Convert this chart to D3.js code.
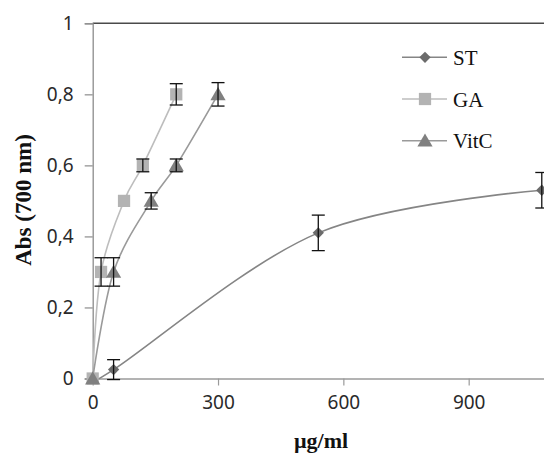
<!DOCTYPE html>
<html>
<head>
<meta charset="utf-8">
<script src="https://cdn.jsdelivr.net/npm/d3@7/dist/d3.min.js"></script>
<style>
  html, body { margin: 0; padding: 0; background: #fff; }
  svg { display: block; }
</style>
</head>
<body>
<svg id="chart" width="544" height="454"></svg>
<script>
// ---- data ----
const seriesNames = ["ST", "GA", "VitC"];
const stX = [0, 50, 540, 1075];
const stY = [0, 0.025, 0.41, 0.53];
const stErr = [0, 0.028, 0.05, 0.05];
const gaX = [0, 20, 75, 120, 200];
const gaY = [0, 0.30, 0.50, 0.60, 0.80];
const gaErr = [0, 0.04, 0, 0.018, 0.03];
const vcX = [0, 50, 140, 200, 300];
const vcY = [0, 0.30, 0.50, 0.60, 0.80];
const vcErr = [0, 0.04, 0.023, 0.018, 0.033];
const xTicks = [0, 300, 600, 900];
const xTickLabels = ["0", "300", "600", "900"];
const yTicks = [0, 0.2, 0.4, 0.6, 0.8, 1];
const yTickLabels = ["0", "0,2", "0,4", "0,6", "0,8", "1"];
const xTitle = "µg/ml";
const yTitle = "Abs (700 nm)";

// ---- layout ----
const svg = d3.select("#chart");
const x = d3.scaleLinear().domain([0, 1200]).range([92.7, 594]);
const y = d3.scaleLinear().domain([0, 1]).range([378.5, 23.3]);

const styles = {
  ST:   { line: "#858585", fill: "#6b6b6b", shape: d3.symbolSquare, size: 64, rot: 45 },
  GA:   { line: "#bdbdbd", fill: "#b3b3b3", shape: d3.symbolSquare, size: 150, rot: 0 },
  VitC: { line: "#9a9a9a", fill: "#808080", shape: d3.symbolTriangle, size: 100, rot: 0 }
};

const series = [
  { name: "ST", xs: stX, ys: stY, es: stErr },
  { name: "GA", xs: gaX, ys: gaY, es: gaErr },
  { name: "VitC", xs: vcX, ys: vcY, es: vcErr }
].map(s => ({ ...s, pts: s.xs.map((v, i) => ({ x: v, y: s.ys[i], e: s.es[i] })) }));

const tickFont = "'Noto Sans', sans-serif";
const serif = "'Liberation Serif', 'Times New Roman', serif";

// top border
svg.append("line")
  .attr("x1", x(0)).attr("x2", 544)
  .attr("y1", y(1)).attr("y2", y(1))
  .attr("stroke", "#4a4a4a").attr("stroke-width", 1.5);

// y axis
const yAxis = svg.append("g")
  .attr("transform", `translate(${x(0)},0)`)
  .call(d3.axisLeft(y).tickValues(yTicks).tickSize(8).tickPadding(11)
    .tickFormat((d, i) => yTickLabels[i]));
yAxis.select(".domain").attr("stroke", "#8c8c8c").attr("stroke-width", 1.3);
yAxis.selectAll(".tick line").attr("stroke", "#8c8c8c").attr("stroke-width", 1.2);
yAxis.selectAll(".tick text").attr("font-family", tickFont).attr("font-size", 19)
  .attr("fill", "#2a2a2a");

// x axis
const xAxis = svg.append("g")
  .attr("transform", `translate(0,${y(0)})`)
  .call(d3.axisBottom(x).tickValues(xTicks).tickSize(7).tickPadding(10)
    .tickFormat((d, i) => xTickLabels[i]));
xAxis.select(".domain").attr("stroke", "#9a9a9a").attr("stroke-width", 1.3);
xAxis.selectAll(".tick line").attr("stroke", "#9a9a9a").attr("stroke-width", 1.2)
  .filter(d => d === 0).remove();
xAxis.selectAll(".tick text").attr("font-family", tickFont).attr("font-size", 19)
  .attr("fill", "#2a2a2a");

// axis titles
svg.append("text")
  .attr("x", 321).attr("y", 448)
  .attr("text-anchor", "middle")
  .attr("font-family", serif).attr("font-weight", "bold").attr("font-size", 22)
  .attr("fill", "#111")
  .text(xTitle);
svg.append("text")
  .attr("transform", `translate(31,200) rotate(-90)`)
  .attr("text-anchor", "middle")
  .attr("font-family", serif).attr("font-weight", "bold").attr("font-size", 23)
  .attr("fill", "#111")
  .text(yTitle);

// lines
const line = d3.line().x(d => x(d.x)).y(d => y(d.y)).curve(d3.curveCardinal.tension(0));
series.forEach(s => {
  svg.append("path")
    .attr("d", line(s.pts))
    .attr("fill", "none")
    .attr("stroke", styles[s.name].line)
    .attr("stroke-width", 1.6);
});

// markers
series.forEach(s => {
  const st = styles[s.name];
  svg.append("g").selectAll("path").data(s.pts).join("path")
    .attr("transform", d => `translate(${x(d.x)},${y(d.y) + (s.name === "VitC" ? 1.5 : 0)}) rotate(${st.rot})`)
    .attr("d", d3.symbol().type(st.shape).size(st.size))
    .attr("fill", st.fill);
});

// error bars
const cap = 6.5;
series.forEach(s => {
  const g = svg.append("g").attr("stroke", "#111").attr("stroke-width", 1.3);
  s.pts.filter(d => d.e > 0).forEach(d => {
    const cx = x(d.x), y1 = y(d.y + d.e), y2 = y(d.y - d.e);
    g.append("line").attr("x1", cx).attr("x2", cx).attr("y1", y1).attr("y2", y2);
    g.append("line").attr("x1", cx - cap).attr("x2", cx + cap).attr("y1", y1).attr("y2", y1);
    g.append("line").attr("x1", cx - cap).attr("x2", cx + cap).attr("y1", y2).attr("y2", y2);
  });
});

// legend
const legY = [57.3, 99, 140.7];
seriesNames.forEach((n, i) => {
  const st = styles[n];
  const g = svg.append("g").attr("transform", `translate(0,${legY[i]})`);
  g.append("line").attr("x1", 402).attr("x2", 447).attr("y1", 0).attr("y2", 0)
    .attr("stroke", st.line).attr("stroke-width", 1.6);
  g.append("path")
    .attr("transform", `translate(425,${n === "VitC" ? 1.5 : 0}) rotate(${st.rot})`)
    .attr("d", d3.symbol().type(st.shape).size(st.size))
    .attr("fill", st.fill);
  g.append("text").attr("x", 453).attr("y", 7.5)
    .attr("font-family", serif).attr("font-size", 21).attr("fill", "#111")
    .text(n);
});
</script>
</body>
</html>
